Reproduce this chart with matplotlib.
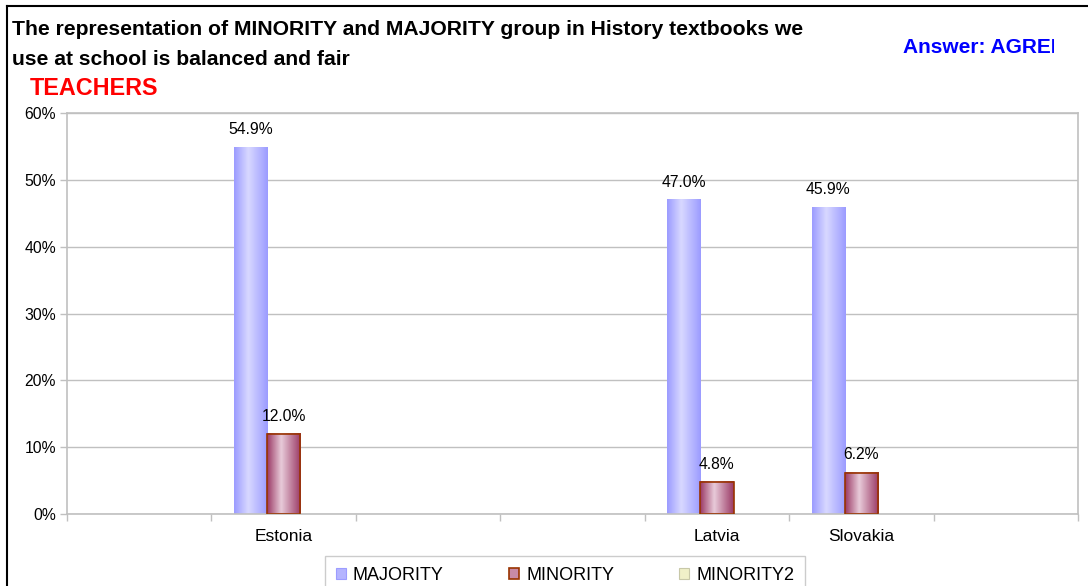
import numpy as np
import matplotlib
matplotlib.use("Agg")
import matplotlib.pyplot as plt
from matplotlib.colors import LinearSegmentedColormap
from matplotlib.patches import Patch
from matplotlib.lines import Line2D
from matplotlib.transforms import Bbox

plt.rcParams['font.family'] = ['Liberation Sans', 'DejaVu Sans']

# --- data ---
categories = ['', 'Estonia', '', '', 'Latvia', 'Slovakia', '']
majority = [np.nan, 54.9, np.nan, np.nan, 47.0, 45.9, np.nan]
minority = [np.nan, 12.0, np.nan, np.nan, 4.8, 6.2, np.nan]
minority2 = [np.nan] * 7
series_names = ['MAJORITY', 'MINORITY', 'MINORITY2']

# couleurs (bord sombre -> centre clair)
grad_maj = ('#9c9cff', '#d8d8ff')
grad_min = ('#9b3a66', '#e8cbd9')
grad_min2 = ('#cfcfa0', '#ffffdd')
edge_min = '#993300'

W, H = 1088, 586
fig = plt.figure(figsize=(W / 100, H / 100), dpi=100)
ax = fig.add_axes([67 / W, 1 - 514 / H, (1078 - 67) / W, (514 - 113) / H])

x = np.arange(len(categories))
bw = 0.23


def gradient_bars(bars, cols, edge=None):
    cmap = LinearSegmentedColormap.from_list('g', [cols[0], cols[1], cols[0]])
    t = np.linspace(0, 1, 64)
    # profil : plus clair vers 40% de la largeur
    prof = np.where(t < 0.42, t / 0.42 * 0.5, 0.5 + (t - 0.42) / 0.58 * 0.5)
    img = prof.reshape(1, -1)
    for b in bars:
        h = b.get_height()
        if np.isnan(h):
            continue
        bx, bwid = b.get_x(), b.get_width()
        ax.imshow(img, cmap=cmap, vmin=0, vmax=1, aspect='auto',
                  extent=[bx, bx + bwid, 0, h], zorder=2, interpolation='bilinear')
        b.set_facecolor('none')
        if edge is not None:
            b.set_edgecolor(edge)
            b.set_linewidth(1.2)
        else:
            b.set_linewidth(0)
        b.set_zorder(3)


b1 = ax.bar(x - bw, majority, bw)
b2 = ax.bar(x, minority, bw)
b3 = ax.bar(x + bw, minority2, bw)
gradient_bars(b1, grad_maj)
gradient_bars(b2, grad_min, edge_min)
gradient_bars(b3, grad_min2)

for bars, vals in ((b1, majority), (b2, minority)):
    for b, v in zip(bars, vals):
        if np.isnan(v):
            continue
        ax.annotate(f'{v:.1f}%', (b.get_x() + b.get_width() / 2, v),
                    xytext=(0, 9.5), textcoords='offset points',
                    ha='center', va='baseline', fontsize=11.3, zorder=5)

ax.set_xlim(-0.5, len(categories) - 0.5)
ax.set_ylim(0, 60)
ax.set_yticks(np.arange(0, 61, 10))
ax.set_yticklabels([f'{v}%' for v in range(0, 61, 10)])
ax.set_xticks(np.arange(-0.5, len(categories), 1.0))
ax.set_xticklabels([])
ax.set_xticks(x, minor=True)
ax.set_xticklabels(categories, minor=True)
ax.tick_params(axis='x', which='minor', length=0, pad=11, labelsize=12.5)
ax.tick_params(axis='x', which='major', length=5, color='#c0c0c0', width=1)
ax.tick_params(axis='y', length=5, color='#c0c0c0', width=1, pad=3, labelsize=11.3)
ax.yaxis.grid(True, color='#c0c0c0', lw=1)
ax.set_axisbelow(True)
for s in ax.spines.values():
    s.set_color('#c0c0c0')
    s.set_linewidth(1.2)

# legende
handles = [Patch(facecolor='#b4b4ff', edgecolor='#9c9cff', lw=0.8),
           Patch(facecolor='#c88aa6', edgecolor=edge_min, lw=1.2),
           Patch(facecolor='#f0f0c8', edgecolor='#c8c8a8', lw=0.8)]
fig.legend(handles, series_names, loc='upper center', ncol=3,
           bbox_to_anchor=(565 / W, 1 - 556 / H), frameon=True, fancybox=False,
           edgecolor='#c0c0c0', fontsize=13, handlelength=0.55, handleheight=0.6,
           handletextpad=0.4, columnspacing=3.6, borderpad=0.6, borderaxespad=0)

# titres
fig.text(12 / W, 1 - 35 / H, 'The representation of MINORITY and MAJORITY group in History textbooks we',
         fontsize=15.2, fontweight='bold', va='baseline')
fig.text(12 / W, 1 - 65 / H, 'use at school is balanced and fair',
         fontsize=15.2, fontweight='bold', va='baseline')
fig.text(30 / W, 1 - 95 / H, 'TEACHERS', fontsize=16.8, fontweight='bold',
         color='red', va='baseline')
ans = fig.text(903 / W, 1 - 53 / H, 'Answer: AGREE', fontsize=15, fontweight='bold',
               color='blue', va='baseline')
ans.set_clip_box(Bbox.from_extents(0, 0, 1054, H))
ans.set_clip_on(True)

# cadre noir (haut, gauche)
fig.add_artist(Line2D([7 / W, 7 / W], [0, 1 - 6 / H], color='black', lw=1.5))
fig.add_artist(Line2D([7 / W, 1], [1 - 6 / H, 1 - 6 / H], color='black', lw=1.5))

fig.savefig('out.png', dpi=100)
